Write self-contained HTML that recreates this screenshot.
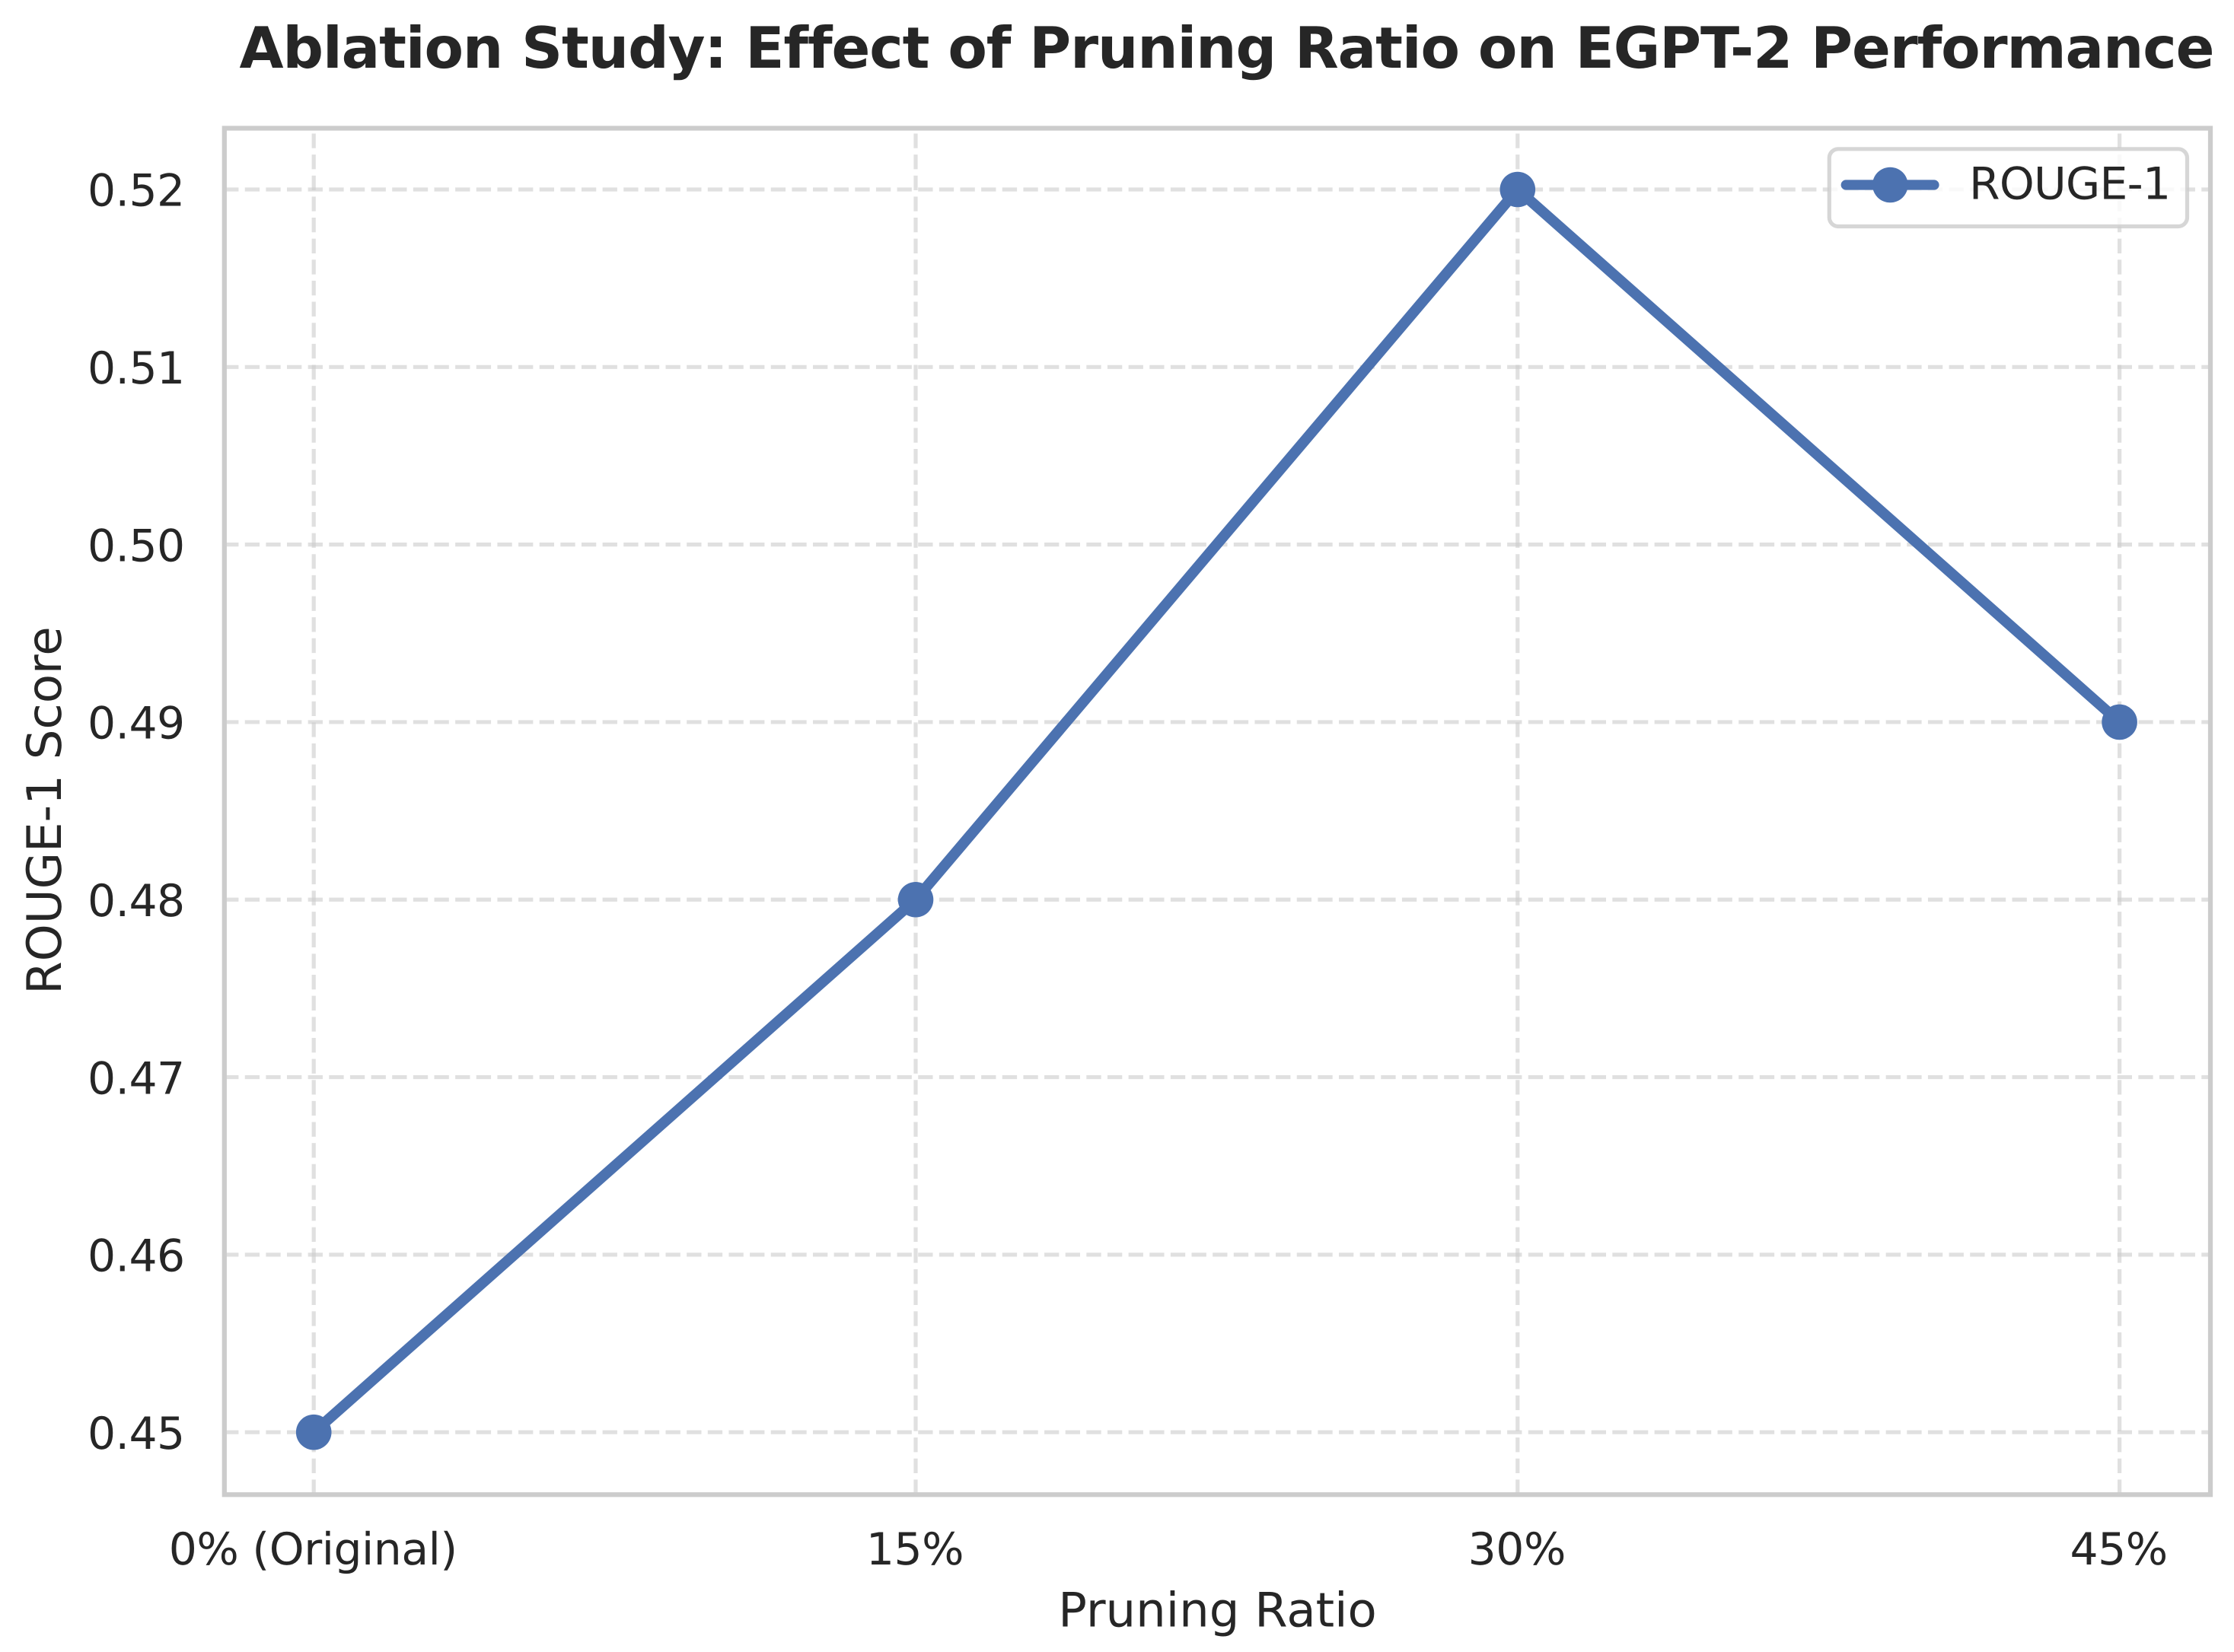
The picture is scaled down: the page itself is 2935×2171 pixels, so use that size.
<!DOCTYPE html>
<html lang="en">
<head>
<meta charset="utf-8">
<title>Ablation Study: Effect of Pruning Ratio on EGPT-2 Performance</title>
<style>
  html, body { margin: 0; padding: 0; background: #ffffff; }
  svg { display: block; }
  text { font-family: "DejaVu Sans", "Liberation Sans", sans-serif; fill: #262626; text-rendering: geometricPrecision; font-variant-ligatures: none; }
</style>
</head>
<body>
<svg id="chart" xmlns="http://www.w3.org/2000/svg" width="2935" height="2171" viewBox="0 0 2935 2171">
  <rect x="0" y="0" width="2935" height="2171" fill="#ffffff"/>
  <text x="314.5" y="89" font-size="75" font-weight="700" textLength="2595" lengthAdjust="spacing">Ablation Study: Effect of Pruning Ratio on EGPT-2 Performance</text>
  <g id="grid"></g>
  <g id="series"></g>
  <rect x="294.8" y="168.5" width="2609.2" height="1795.7" fill="none" stroke="#cccccc" stroke-width="6.25"/>
  <g id="ticks"></g>
  <text x="1599.5" y="2137.3" font-size="62.5" text-anchor="middle">Pruning Ratio</text>
  <text x="0" y="0" font-size="62.5" text-anchor="middle" transform="translate(80 1065) rotate(-90)">ROUGE-1 Score</text>
  <g>
    <rect x="2403.3" y="195.8" width="470.2" height="101.7" rx="11.7" ry="11.7" fill="#ffffff" fill-opacity="0.8" stroke="#cccccc" stroke-opacity="0.8" stroke-width="5.2"/>
    <line x1="2425.2" y1="243" x2="2541" y2="243" stroke="#4c72b0" stroke-width="13.2" stroke-linecap="round"/>
    <circle cx="2483.3" cy="243" r="23.3" fill="#4c72b0"/>
    <text x="2587" y="261.7" font-size="58.33" letter-spacing="-0.7">ROUGE-1</text>
  </g>
</svg>
<script>
const categories = ["0% (Original)", "15%", "30%", "45%"];
const rougeScores = [0.45, 0.48, 0.52, 0.49];
const yTickValues = [0.45, 0.46, 0.47, 0.48, 0.49, 0.50, 0.51, 0.52];
const yTickLabels = ["0.45", "0.46", "0.47", "0.48", "0.49", "0.50", "0.51", "0.52"];

const NS = "http://www.w3.org/2000/svg";
const plotLeft = 294.1, plotRight = 2904, plotTop = 168.5, plotBottom = 1963.7;
const xPx0 = 412.2, xStep = 790.8;
const yPxTop = 249, yPxBottom = 1882.2, yValTop = 0.52, yValBottom = 0.45;

function xScale(i) { return xPx0 + i * xStep; }
function yScale(v) { return yPxTop + (yValTop - v) * (yPxBottom - yPxTop) / (yValTop - yValBottom); }

const gridGroup = document.getElementById("grid");
const seriesGroup = document.getElementById("series");
const tickGroup = document.getElementById("ticks");

function gridLine(x1, y1, x2, y2) {
  const el = document.createElementNS(NS, "line");
  el.setAttribute("x1", x1);
  el.setAttribute("y1", y1);
  el.setAttribute("x2", x2);
  el.setAttribute("y2", y2);
  el.setAttribute("stroke", "#cccccc");
  el.setAttribute("stroke-opacity", "0.6");
  el.setAttribute("stroke-width", "5.2");
  el.setAttribute("stroke-dasharray", "19.3 8.34");
  gridGroup.appendChild(el);
  return el;
}

yTickValues.forEach(function (v, i) {
  const py = yScale(v);
  const g = gridLine(plotLeft, py, plotRight, py);
  
  
  const t = document.createElementNS(NS, "text");
  t.setAttribute("x", 242.5);
  t.setAttribute("y", py + 21.7);
  t.setAttribute("font-size", "58.33");
  t.setAttribute("text-anchor", "end");
  t.setAttribute("letter-spacing", "-0.6");
  t.textContent = yTickLabels[i];
  
  
  tickGroup.appendChild(t);
});

categories.forEach(function (c, i) {
  const px = xScale(i);
  const g = gridLine(px, plotBottom, px, plotTop);
  
  
  const t = document.createElementNS(NS, "text");
  t.setAttribute("x", px - 1);
  t.setAttribute("y", 2056);
  t.setAttribute("font-size", "58.33");
  t.setAttribute("text-anchor", "middle");
  t.setAttribute("letter-spacing", "-0.45");
  t.textContent = c;
  
  
  tickGroup.appendChild(t);
});

const seriesLine = document.createElementNS(NS, "polyline");
seriesLine.setAttribute("points", rougeScores.map(function (v, i) { return xScale(i) + "," + yScale(v); }).join(" "));
seriesLine.setAttribute("fill", "none");
seriesLine.setAttribute("stroke", "#4c72b0");
seriesLine.setAttribute("stroke-width", "14");
seriesLine.setAttribute("stroke-linejoin", "round");
seriesLine.setAttribute("stroke-linecap", "round");


seriesGroup.appendChild(seriesLine);

rougeScores.forEach(function (v, i) {
  const m = document.createElementNS(NS, "circle");
  m.setAttribute("cx", xScale(i));
  m.setAttribute("cy", yScale(v));
  m.setAttribute("r", "23.3");
  m.setAttribute("fill", "#4c72b0");
  
  
  seriesGroup.appendChild(m);
});
</script>
</body>
</html>
